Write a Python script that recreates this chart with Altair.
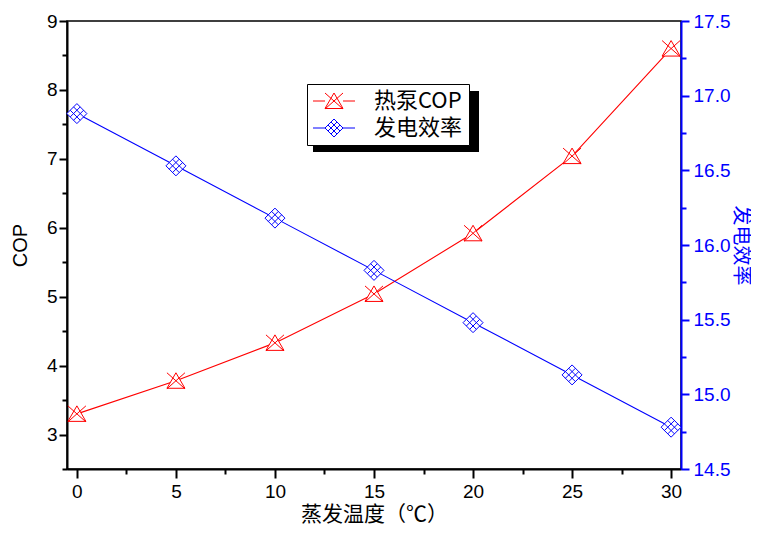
import altair as alt
import pandas as pd

temps = [0, 5, 10, 15, 20, 25, 30]
cop = [3.30, 3.78, 4.33, 5.04, 5.92, 7.04, 8.60]
eff = [16.88, 16.53, 16.18, 15.83, 15.48, 15.13, 14.78]
series_names = ["热泵COP", "发电效率"]
series_colors = ["#FF0000", "#0000FF"]

x_ticks = [i * 2.5 for i in range(13)]
left_ticks = [2.5 + i * 0.5 for i in range(14)]
right_ticks = [14.5 + i * 0.25 for i in range(13)]

df = pd.DataFrame({"temp": temps, "cop": cop, "eff": eff})
leg_df = pd.DataFrame({"series": series_names})

RED = "M0,-0.8L0.9,0.75L-0.9,0.75Z M-0.9,-0.8L0.9,0.8 M0.9,-0.8L-0.9,0.8"
BLUE = ("M0,-1L1,0L0,1L-1,0Z M-0.667,0.333L0.333,-0.667 M-0.333,0.667L0.667,-0.333 "
        "M-0.667,-0.333L0.333,0.667 M-0.333,-0.667L0.667,0.333")
# legend versions: glyph scaled x2 plus line segments
RED_L = ("M0,-1.6L1.8,1.5L-1.8,1.5Z M-1.8,-1.6L1.8,1.6 M1.8,-1.6L-1.8,1.6 "
         "M-4.2,0L-1.8,0 M1.8,0L4.2,0")
BLUE_L = ("M0,-1.8L1.8,0L0,1.8L-1.8,0Z M-1.2,0.6L0.6,-1.2 M-0.6,1.2L1.2,-0.6 "
          "M-1.2,-0.6L0.6,1.2 M-0.6,-1.2L1.2,0.6 M-4.2,0L-1.8,0 M1.8,0L4.2,0")

LABEL_FONT = "Liberation Sans"
CJK = "Noto Sans CJK SC"

tick_cond_x = {"condition": {"test": "datum.value % 5 === 0", "value": 9}, "value": 5}
tick_cond_l = {"condition": {"test": "datum.value % 1 === 0", "value": 8}, "value": 5}
tick_cond_r = {"condition": {"test": "datum.value % 0.5 === 0", "value": 8}, "value": 5}

x_enc = alt.X(
    "temp:Q",
    scale=alt.Scale(domain=[-0.5, 30.5], nice=False, zero=False),
    axis=alt.Axis(
        values=x_ticks,
        labelExpr="datum.value % 5 === 0 ? format(datum.value, 'd') : ''",
        tickSize=tick_cond_x,
        tickWidth=2, tickColor="black", domainColor="black", domainWidth=2,
        labelFont=LABEL_FONT, labelFontSize=19, labelColor="black", labelPadding=4,
        title="蒸发温度（℃）", titleFont=CJK, titleFontSize=21, titleFontWeight="normal",
        titleColor="black", titlePadding=2, grid=False,
    ),
)

y_left = alt.Y(
    "cop:Q",
    scale=alt.Scale(domain=[2.5, 9], nice=False, zero=False),
    axis=alt.Axis(
        orient="left", values=left_ticks,
        labelExpr="datum.value % 1 === 0 && datum.value >= 3 ? format(datum.value, 'd') : ''",
        tickSize=tick_cond_l,
        tickWidth=2, tickColor="black", domainColor="black", domainWidth=2,
        labelFont=LABEL_FONT, labelFontSize=19, labelColor="black", labelPadding=2,
        title="COP", titleFont=LABEL_FONT, titleFontSize=20, titleFontWeight="normal",
        titleColor="black", titlePadding=16, grid=False,
    ),
)

y_right = alt.Y(
    "eff:Q",
    scale=alt.Scale(domain=[14.5, 17.5], nice=False, zero=False),
    axis=alt.Axis(
        orient="right", values=right_ticks,
        labelExpr="datum.value % 0.5 === 0 ? format(datum.value, '.1f') : ''",
        tickSize=tick_cond_r,
        tickWidth=2, tickColor="#0000FF", domainColor="#0000FF", domainWidth=2,
        labelFont=LABEL_FONT, labelFontSize=19, labelColor="#0000FF", labelPadding=4,
        title="发电效率", titleFont=CJK, titleFontSize=20, titleFontWeight="normal",
        titleColor="#0000FF", titleAngle=90, titlePadding=1, grid=False,
    ),
)

base = alt.Chart(df)

shadow = alt.Chart(pd.DataFrame({"k": [0]})).mark_rect(color="black").encode(
    x=alt.value(246), x2=alt.value(412), y=alt.value(70), y2=alt.value(131)
)

cop_layer = alt.layer(
    base.mark_line(color="#FF0000", strokeWidth=1.1).encode(x=x_enc, y=y_left),
    base.mark_point(shape=RED, size=400, fill="white", fillOpacity=1, stroke="#FF0000",
                    strokeWidth=1, opacity=1).encode(x=x_enc, y=y_left),
)

eff_layer = alt.layer(
    base.mark_line(color="#0000FF", strokeWidth=1.1).encode(x=x_enc, y=y_right),
    base.mark_point(shape=BLUE, size=400, fill="white", fillOpacity=1, stroke="#0000FF",
                    strokeWidth=1, opacity=1).encode(x=x_enc, y=y_right),
)

leg = dict(
    orient="none", legendX=240, legendY=63, title=None,
    strokeColor="black", fillColor="white", padding=6,
    labelFont=CJK, labelFontSize=22, labelColor="black",
    symbolSize=100, symbolStrokeWidth=1, labelOffset=29, symbolOffset=10,
    rowPadding=5, offset=0,
)

legend_layer = alt.Chart(leg_df).transform_filter("false").mark_point(
    filled=False, strokeWidth=1, opacity=1
).encode(
    color=alt.Color(
        "series:N",
        scale=alt.Scale(domain=series_names, range=series_colors),
        legend=alt.Legend(**leg),
    ),
    shape=alt.Shape(
        "series:N",
        scale=alt.Scale(domain=series_names, range=[RED_L, BLUE_L]),
        legend=alt.Legend(**leg),
    ),
)

chart = alt.layer(shadow, cop_layer, eff_layer, legend_layer).resolve_scale(
    y="independent"
).properties(
    width=614, height=448, padding={"left": 2, "top": 4, "right": 0, "bottom": 0},
    background="white",
).configure_view(stroke="black", strokeWidth=1.5)

chart.save("out.html", embed_options={"renderer": "svg", "actions": False})
